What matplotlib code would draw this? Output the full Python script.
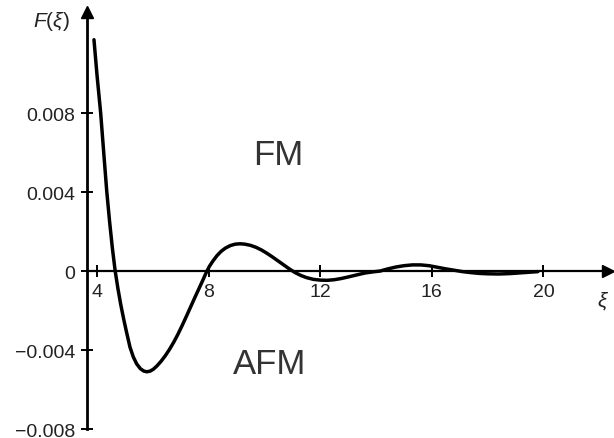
import matplotlib
matplotlib.use("Agg")
import matplotlib.pyplot as plt

plt.rcParams["font.family"] = ["Liberation Sans", "DejaVu Sans"]
plt.rcParams["mathtext.fontset"] = "custom"
plt.rcParams["mathtext.rm"] = "Liberation Sans"
plt.rcParams["mathtext.it"] = "Liberation Sans:italic"

# RKKY-type range function F(xi), sampled values
xi = [3.89, 4.00, 4.13, 4.25, 4.35, 4.45, 4.55, 4.65, 4.75, 4.85, 4.95,
      5.05, 5.18, 5.30, 5.42, 5.55, 5.67, 5.78, 5.90, 6.02, 6.15, 6.30,
      6.45, 6.60, 6.75, 6.90, 7.05, 7.20, 7.35, 7.50, 7.65, 7.78, 7.90,
      8.02, 8.15, 8.30, 8.45, 8.60, 8.78, 8.95, 9.13, 9.30, 9.50, 9.70,
      9.90, 10.10, 10.30, 10.50, 10.70, 10.90, 11.10, 11.30, 11.50, 11.75,
      12.00, 12.25, 12.50, 12.75, 13.00, 13.30, 13.60, 13.90, 14.15, 14.40,
      14.70, 15.00, 15.30, 15.60, 15.90, 16.20, 16.50, 16.80, 17.10, 17.40,
      17.70, 18.00, 18.40, 18.80, 19.20, 19.50, 19.80]
F = [0.01171, 0.00990, 0.00800, 0.00580, 0.00400, 0.00250, 0.00115, 0.00000,
     -0.00090, -0.00170, -0.00240, -0.00305, -0.00385, -0.00435, -0.00470,
     -0.00494, -0.00506, -0.00510, -0.00507, -0.00497, -0.00480, -0.00456,
     -0.00428, -0.00396, -0.00360, -0.00320, -0.00276, -0.00230, -0.00183,
     -0.00136, -0.00090, -0.00050, -0.00012, 0.00022, 0.00050, 0.00078,
     0.00100, 0.00116, 0.00129, 0.00136, 0.00138, 0.00136, 0.00130, 0.00120,
     0.00106, 0.00089, 0.00070, 0.00050, 0.00030, 0.00010, -0.00008,
     -0.00022, -0.00033, -0.00042, -0.00046, -0.00047, -0.00044, -0.00038,
     -0.00030, -0.00020, -0.00010, -0.00004, 0.00000, 0.00010, 0.00020,
     0.00027, 0.00031, 0.00031, 0.00027, 0.00019, 0.00011, 0.00004,
     -0.00003, -0.00008, -0.00012, -0.00014, -0.00015, -0.00013, -0.00009,
     -0.00006, -0.00003]

xticks = [4, 8, 12, 16, 20]
yticks = [-0.008, -0.004, 0, 0.004, 0.008]
ytick_labels = ["\u22120.008", "\u22120.004", "0", "0.004", "0.008"]

W, H = 614, 439
fig = plt.figure(figsize=(W / 100, H / 100), dpi=100)
ax = fig.add_axes([87 / W, (H - 434) / H, (W - 87) / W, (434 - 3.4) / H])

x_lo, x_hi = 3.64, 22.53
y_lo, y_hi = -0.0082, 0.0136
ax.set_xlim(x_lo, x_hi)
ax.set_ylim(y_lo, y_hi)

ax.plot(xi, F, color="black", lw=2.5, solid_capstyle="round",
        solid_joinstyle="round", zorder=3)

# axes drawn as arrows through the origin line
for s in ["top", "right"]:
    ax.spines[s].set_visible(False)
ax.spines["left"].set_linewidth(2.0)
ax.spines["left"].set_bounds(-0.008, 0.0128)
ax.spines["bottom"].set_position(("data", 0))
ax.spines["bottom"].set_linewidth(1.6)
ax.spines["bottom"].set_bounds(x_lo, 22.2)
ax.plot([x_lo], [0.0131], marker="^", color="black", ms=9, clip_on=False)
ax.plot([22.3], [0], marker=">", color="black", ms=8, clip_on=False)

ax.set_xticks(xticks)
ax.set_xticklabels([str(t) for t in xticks])
ax.set_yticks(yticks)
ax.set_yticklabels(ytick_labels)
ax.tick_params(axis="both", direction="inout", length=9, width=1.4,
               labelsize=14, colors="black")
ax.tick_params(axis="x", pad=4)
ax.tick_params(axis="y", pad=4)
for lab in ax.get_yticklabels() + ax.get_xticklabels():
    lab.set_color("#222222")

ax.text(2.35, 0.0127, r"$\mathit{F}(\xi)$", ha="center", va="center",
        fontsize=15, color="#222222", clip_on=False)
ax.text(22.15, -0.0009, r"$\xi$", ha="center", va="top", fontsize=15,
        color="#222222", clip_on=False)

ax.text(10.5, 0.0059, "FM", ha="center", va="center", fontsize=25,
        color="#333333")
ax.text(10.2, -0.0047, "AFM", ha="center", va="center", fontsize=25,
        color="#333333")

fig.savefig("out.png", dpi=100)
